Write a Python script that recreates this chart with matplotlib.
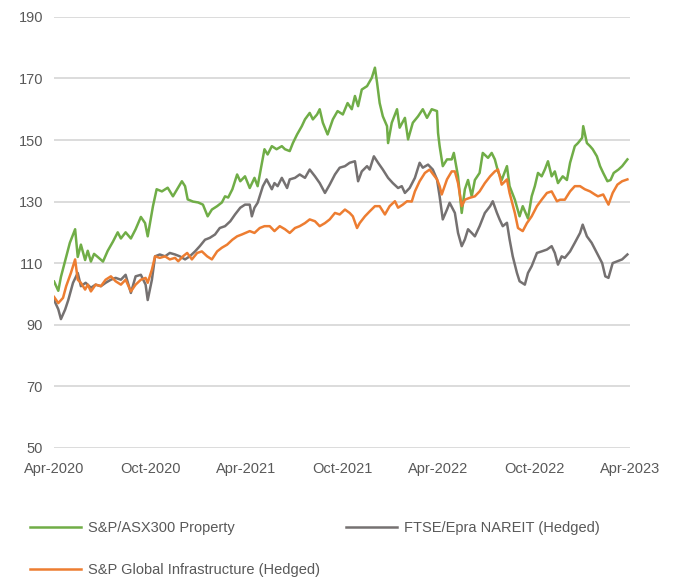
import matplotlib
matplotlib.use("Agg")
import matplotlib.pyplot as plt
import matplotlib.dates as mdates
import pandas as pd

plt.rcParams['font.family'] = ['Liberation Sans', 'DejaVu Sans']

# S&P/ASX300 Property
green_dates = [
    "2020-04-01", "2020-04-09", "2020-04-14", "2020-04-24", "2020-05-01", "2020-05-11", "2020-05-16",
    "2020-05-22", "2020-05-30", "2020-06-04", "2020-06-10", "2020-06-16", "2020-06-23", "2020-07-03",
    "2020-07-12", "2020-07-22", "2020-07-31", "2020-08-06", "2020-08-15", "2020-08-25", "2020-09-03",
    "2020-09-13", "2020-09-21", "2020-09-26", "2020-10-06", "2020-10-13", "2020-10-23", "2020-11-03",
    "2020-11-13", "2020-11-21", "2020-11-30", "2020-12-06", "2020-12-11", "2020-12-21", "2020-12-31",
    "2021-01-09", "2021-01-18", "2021-01-26", "2021-02-05", "2021-02-14", "2021-02-20", "2021-02-26",
    "2021-03-06", "2021-03-15", "2021-03-21", "2021-03-30", "2021-04-08", "2021-04-17", "2021-04-23",
    "2021-05-06", "2021-05-12", "2021-05-20", "2021-05-29", "2021-06-08", "2021-06-14", "2021-06-23",
    "2021-06-29", "2021-07-07", "2021-07-16", "2021-07-22", "2021-07-31", "2021-08-06", "2021-08-14",
    "2021-08-19", "2021-08-25", "2021-09-03", "2021-09-13", "2021-09-22", "2021-10-02", "2021-10-11",
    "2021-10-19", "2021-10-25", "2021-10-31", "2021-11-07", "2021-11-17", "2021-11-26", "2021-12-02",
    "2021-12-06", "2021-12-11", "2021-12-17", "2021-12-25", "2021-12-27", "2022-01-03", "2022-01-13",
    "2022-01-18", "2022-01-28", "2022-02-03", "2022-02-12", "2022-02-22", "2022-03-03", "2022-03-11",
    "2022-03-20", "2022-03-30", "2022-04-01", "2022-04-04", "2022-04-10", "2022-04-18", "2022-04-27",
    "2022-05-01", "2022-05-09", "2022-05-16", "2022-05-22", "2022-05-28", "2022-06-04", "2022-06-10",
    "2022-06-19", "2022-06-25", "2022-07-05", "2022-07-12", "2022-07-18", "2022-07-24", "2022-07-31",
    "2022-08-10", "2022-08-15", "2022-08-25", "2022-09-03", "2022-09-09", "2022-09-19", "2022-09-26",
    "2022-10-02", "2022-10-08", "2022-10-15", "2022-10-21", "2022-10-27", "2022-11-03", "2022-11-09",
    "2022-11-15", "2022-11-24", "2022-12-02", "2022-12-08", "2022-12-17", "2022-12-23", "2022-12-31",
    "2023-01-02", "2023-01-09", "2023-01-15", "2023-01-20", "2023-01-28", "2023-02-03", "2023-02-09",
    "2023-02-17", "2023-02-23", "2023-03-01", "2023-03-10", "2023-03-17", "2023-03-27",
]
green_vals = [
    104, 101, 105.5, 112, 116.6, 121, 112,
    116, 111, 114, 110.5, 113, 112, 110.5,
    114, 117, 120, 118, 120, 118, 121,
    125, 123, 118.7, 128.5, 134, 133.3, 134.5,
    131.7, 134, 136.6, 135, 130.7, 130, 129.7,
    129, 125.2, 127.4, 128.5, 129.7, 131.7, 131.3,
    134, 138.8, 136.6, 138.2, 134.4, 137.7, 135,
    147, 145.3, 148, 147, 148, 147, 146.4,
    149, 151.8, 154.5, 156.7, 158.8, 156.7, 158.3,
    160, 155.6, 151.8, 156.7, 159.4, 158.3, 162,
    160, 164.3, 161, 166.4, 167.5, 170.2, 173.5,
    168.7, 162, 157.7, 154.5, 149, 155.6, 160,
    154, 157.2, 150.2, 155.6, 157.7, 160, 157.2,
    160, 159.4, 152.3, 148, 141.5, 143.7, 143.7,
    145.8, 138.2, 126.3, 134, 137, 131.7, 137,
    139.3, 145.8, 144.2, 145.8, 143.7, 139.8, 137,
    141.5, 135, 130.6, 125.2, 128.5, 124.5, 131.7,
    135, 139.3, 138.2, 140.4, 143.1, 138.2, 139.8,
    136, 138.2, 137, 142.6, 148, 149, 150.7,
    154.5, 149, 148, 147, 144.7, 141.5, 139.3,
    136.6, 137, 139.3, 140.4, 141.5, 143.7,
]

# FTSE/Epra NAREIT (Hedged)
grey_dates = [
    "2020-04-01", "2020-04-09", "2020-04-14", "2020-04-22", "2020-04-28", "2020-05-07", "2020-05-16",
    "2020-05-22", "2020-05-31", "2020-06-10", "2020-06-19", "2020-06-29", "2020-07-08", "2020-07-18",
    "2020-07-27", "2020-08-06", "2020-08-15", "2020-08-25", "2020-09-03", "2020-09-13", "2020-09-22",
    "2020-09-26", "2020-10-04", "2020-10-10", "2020-10-19", "2020-10-29", "2020-11-07", "2020-11-17",
    "2020-11-26", "2020-12-06", "2020-12-15", "2020-12-25", "2021-01-03", "2021-01-13", "2021-01-22",
    "2021-02-01", "2021-02-10", "2021-02-20", "2021-03-02", "2021-03-11", "2021-03-21", "2021-03-30",
    "2021-04-08", "2021-04-12", "2021-04-17", "2021-04-23", "2021-05-03", "2021-05-10", "2021-05-20",
    "2021-05-25", "2021-05-31", "2021-06-08", "2021-06-18", "2021-06-23", "2021-07-03", "2021-07-12",
    "2021-07-22", "2021-07-31", "2021-08-10", "2021-08-19", "2021-08-29", "2021-09-07", "2021-09-17",
    "2021-09-26", "2021-10-06", "2021-10-15", "2021-10-25", "2021-10-31", "2021-11-07", "2021-11-17",
    "2021-11-22", "2021-11-30", "2021-12-08", "2021-12-17", "2021-12-27", "2022-01-05", "2022-01-15",
    "2022-01-22", "2022-01-28", "2022-02-06", "2022-02-16", "2022-02-25", "2022-03-03", "2022-03-13",
    "2022-03-22", "2022-03-30", "2022-04-04", "2022-04-10", "2022-04-18", "2022-04-23", "2022-05-03",
    "2022-05-09", "2022-05-16", "2022-05-22", "2022-05-28", "2022-06-04", "2022-06-10", "2022-06-19",
    "2022-06-29", "2022-07-09", "2022-07-14", "2022-07-22", "2022-07-27", "2022-08-02", "2022-08-10",
    "2022-08-15", "2022-08-21", "2022-08-29", "2022-09-03", "2022-09-13", "2022-09-19", "2022-09-26",
    "2022-10-06", "2022-10-15", "2022-10-25", "2022-11-03", "2022-11-09", "2022-11-15", "2022-11-22",
    "2022-11-28", "2022-12-08", "2022-12-17", "2022-12-27", "2023-01-01", "2023-01-09", "2023-01-18",
    "2023-01-28", "2023-02-07", "2023-02-13", "2023-02-19", "2023-02-27", "2023-03-08", "2023-03-17",
    "2023-03-27",
]
grey_vals = [
    98, 95, 91.8, 94.9, 98, 103.6, 106.8,
    102.5, 103.6, 102, 103, 102.5, 103.6, 104.6,
    105.2, 104.6, 106.2, 100.3, 105.7, 106.2, 103,
    98, 104.6, 112.2, 112.8, 112.2, 113.3, 112.8,
    112.2, 111.2, 112.2, 113.8, 115.5, 117.6, 118.2,
    119.3, 121.4, 122, 123.6, 125.8, 128, 129,
    129, 125.2, 128, 129.6, 135, 137.2, 134,
    136, 135, 137.7, 134.4, 137.2, 137.7, 138.8,
    137.7, 140.4, 138.2, 136, 132.8, 135.5, 138.8,
    141, 141.5, 142.6, 143.1, 136.6, 139.8, 141.5,
    140.4, 144.7, 142.6, 140.4, 137.7, 136, 134.4,
    135, 132.8, 134.4, 137.7, 142.6, 141, 142,
    140.4, 137.2, 131.7, 124.2, 127.4, 129.6, 126.3,
    119.8, 115.5, 117.7, 121, 119.8, 118.7, 122,
    126.3, 128.5, 130.1, 126.3, 124.2, 122, 123.1,
    117.7, 112.2, 106.8, 104.1, 103, 106.8, 109,
    113.3, 113.8, 114.4, 115.5, 113.3, 109.5, 112.2,
    111.7, 113.8, 116.6, 119.8, 122.5, 118.7, 116.6,
    113.3, 110, 105.7, 105.2, 110, 110.6, 111.2,
    112.8,
]

# S&P Global Infrastructure (Hedged)
orange_dates = [
    "2020-04-01", "2020-04-09", "2020-04-18", "2020-04-24", "2020-05-03", "2020-05-11", "2020-05-16",
    "2020-05-22", "2020-05-30", "2020-06-04", "2020-06-10", "2020-06-19", "2020-06-29", "2020-07-08",
    "2020-07-18", "2020-07-27", "2020-08-06", "2020-08-15", "2020-08-25", "2020-09-03", "2020-09-13",
    "2020-09-22", "2020-09-26", "2020-10-04", "2020-10-10", "2020-10-19", "2020-10-29", "2020-11-07",
    "2020-11-17", "2020-11-23", "2020-12-02", "2020-12-10", "2020-12-19", "2020-12-29", "2021-01-07",
    "2021-01-17", "2021-01-26", "2021-02-05", "2021-02-14", "2021-02-24", "2021-03-06", "2021-03-15",
    "2021-03-24", "2021-04-08", "2021-04-17", "2021-04-27", "2021-05-06", "2021-05-16", "2021-05-25",
    "2021-06-04", "2021-06-14", "2021-06-23", "2021-07-03", "2021-07-12", "2021-07-22", "2021-07-31",
    "2021-08-10", "2021-08-19", "2021-08-29", "2021-09-07", "2021-09-17", "2021-09-26", "2021-10-06",
    "2021-10-15", "2021-10-21", "2021-10-29", "2021-11-03", "2021-11-13", "2021-11-22", "2021-12-02",
    "2021-12-11", "2021-12-21", "2021-12-30", "2022-01-09", "2022-01-15", "2022-01-24", "2022-02-01",
    "2022-02-10", "2022-02-16", "2022-02-25", "2022-03-07", "2022-03-16", "2022-03-22", "2022-03-30",
    "2022-04-04", "2022-04-08", "2022-04-18", "2022-04-27", "2022-05-03", "2022-05-09", "2022-05-16",
    "2022-05-22", "2022-05-31", "2022-06-10", "2022-06-19", "2022-06-29", "2022-07-09", "2022-07-18",
    "2022-07-24", "2022-07-31", "2022-08-10", "2022-08-15", "2022-08-25", "2022-08-31", "2022-09-09",
    "2022-09-17", "2022-09-26", "2022-10-06", "2022-10-15", "2022-10-25", "2022-11-03", "2022-11-13",
    "2022-11-19", "2022-11-28", "2022-12-08", "2022-12-17", "2022-12-27", "2023-01-05", "2023-01-15",
    "2023-01-24", "2023-01-30", "2023-02-09", "2023-02-19", "2023-02-27", "2023-03-08", "2023-03-17",
    "2023-03-27",
]
orange_vals = [
    99, 97, 98.7, 102.5, 106.8, 111.2, 104.6,
    103.6, 101.4, 103, 100.8, 103, 102.5, 104.6,
    105.7, 104.1, 103, 104.6, 100.8, 103, 104.6,
    105.2, 103.6, 107.9, 112.2, 111.7, 112.2, 111.2,
    111.7, 110.6, 112.2, 113.3, 111.2, 113.3, 113.8,
    112.2, 111.2, 113.8, 115, 116, 117.6, 118.7,
    119.3, 120.4, 119.8, 121.4, 122, 122, 120.4,
    122, 121, 119.8, 121.4, 122, 123, 124.2,
    123.6, 122, 123, 124.2, 126.3, 125.8, 127.4,
    126.3, 125.2, 121.4, 123, 125.2, 126.8, 128.5,
    128.5, 125.8, 128.5, 130.1, 128, 129, 130.1,
    130, 133.3, 136.6, 139.3, 140.4, 139, 137.2,
    135, 132.3, 137.2, 139.8, 139.8, 136, 128.5,
    130.6, 131.2, 131.7, 133.3, 136, 138.2, 139.8,
    140.4, 135.5, 137.2, 132.8, 126.3, 121.4, 120.4,
    123, 125.2, 128.5, 130.6, 132.8, 133.3, 130.1,
    130.6, 130.6, 133.3, 135, 135, 134, 133.3,
    132.3, 131.7, 132.3, 129, 132.8, 135.5, 136.6,
    137.2,
]

labels = ["S&P/ASX300 Property", "FTSE/Epra NAREIT (Hedged)", "S&P Global Infrastructure (Hedged)"]
colors = ["#70AD47", "#757171", "#ED7D31"]

fig = plt.figure(figsize=(6.76, 5.83), dpi=100)
ax = fig.add_axes([0.08, 0.232, 0.852, 0.739])

h_green, = ax.plot(pd.to_datetime(green_dates), green_vals, color=colors[0], lw=1.8, label=labels[0])
h_grey, = ax.plot(pd.to_datetime(grey_dates), grey_vals, color=colors[1], lw=1.8, label=labels[1])
h_orange, = ax.plot(pd.to_datetime(orange_dates), orange_vals, color=colors[2], lw=1.8, label=labels[2])

ax.set_xlim(pd.Timestamp("2020-04-01"), pd.Timestamp("2023-04-01"))
ax.set_ylim(50, 190)
ax.set_yticks(range(50, 191, 20))
ax.xaxis.set_major_locator(mdates.MonthLocator(bymonth=[4, 10]))
ax.xaxis.set_major_formatter(mdates.DateFormatter("%b-%Y"))

ax.grid(axis="y", color="#D9D9D9", lw=1.3)
ax.set_axisbelow(True)
for s in ax.spines.values():
    s.set_visible(False)
ax.tick_params(length=0, labelsize=10.5, labelcolor="#595959")
ax.tick_params(axis="x", pad=10)
ax.tick_params(axis="y", pad=8)

# legend: green / grey on first row, orange on second
fig.legend([h_green, h_orange, h_grey], [labels[0], labels[2], labels[1]],
           ncol=2, loc="upper left", bbox_to_anchor=(0.036, 0.116), frameon=False,
           fontsize=10.5, labelcolor="#595959", handlelength=3.5, handletextpad=0.45,
           columnspacing=1.8, labelspacing=1.9, borderaxespad=0)

fig.savefig("out.png", dpi=100)
